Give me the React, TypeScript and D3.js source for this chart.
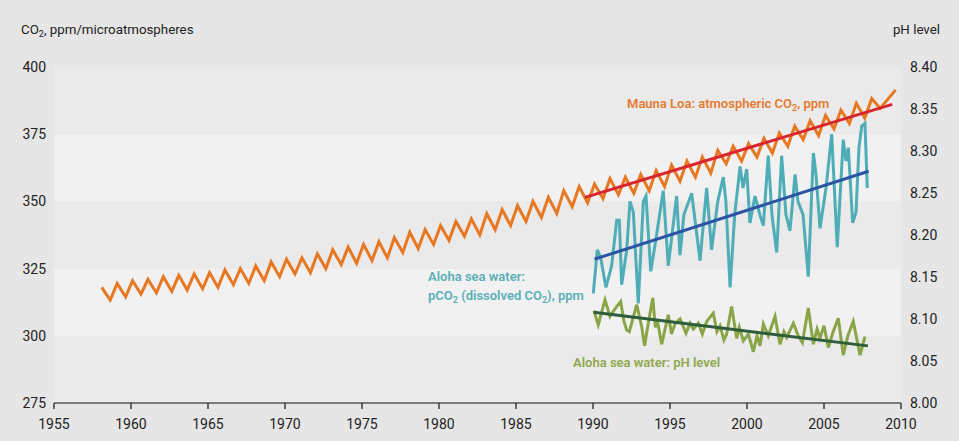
import React from "react";
import * as d3 from "d3";

const years = [1955, 1960, 1965, 1970, 1975, 1980, 1985, 1990, 1995, 2000, 2005, 2010];
const ppmTicks = [275, 300, 325, 350, 375, 400];
const phTicks = [8.0, 8.05, 8.1, 8.15, 8.2, 8.25, 8.3, 8.35, 8.4];

// Mauna Loa seasonal peaks / troughs, 1958..2008
const mlYears = d3.range(1958, 2009);
const mlPeak = [318, 319.5, 320.5, 321, 322, 322.5, 323, 323.5, 324.5, 325, 326, 327.5, 328.5, 329, 330.5, 332, 333, 334, 335, 336.5, 338.5, 339.5, 341, 342.5, 343.5, 345.5, 347, 348.5, 350, 351.5, 354, 355.5, 356.5, 358.5, 359, 360, 361.5, 363.5, 365, 366.5, 369, 370.5, 371.5, 373.5, 375.5, 378, 380, 382, 384, 386.5, 388.3];
const mlTrough = [313.3, 314.5, 315.5, 316, 316.5, 317, 317.5, 318, 319, 319.5, 320.5, 322, 323, 323.5, 325, 326.5, 327, 328, 329, 331, 332.5, 334, 335.5, 337, 337.5, 339.5, 341, 342.5, 344, 345.5, 348, 349.5, 351, 352.5, 353, 354, 355.5, 357.5, 359, 360.5, 364, 365, 366.5, 368, 370.5, 373, 374.5, 377, 379, 381, 384.6];
const mlLast: [number, number] = [2009.65, 391.5];

// Aloha pCO2 (year, µatm)
const alohaPco2: [number, number][] = [
  [1990.02, 315.8], [1990.28, 332], [1990.5, 329], [1990.84, 318], [1991.21, 326], [1991.54, 343],
  [1991.71, 343], [1991.86, 319], [1992.19, 332], [1992.4, 350], [1992.62, 346], [1992.94, 312],
  [1993.27, 350], [1993.44, 352], [1993.75, 324], [1994.09, 336], [1994.56, 354], [1994.89, 326],
  [1995.43, 352], [1995.65, 330], [1995.9, 345], [1996.41, 353], [1996.95, 328], [1997.38, 355],
  [1997.7, 332], [1998.1, 350], [1998.46, 359], [1998.63, 350], [1998.9, 318], [1999.2, 345],
  [1999.55, 363], [1999.74, 355], [1999.98, 362], [2000.19, 342], [2000.52, 352], [2000.84, 345],
  [2001.06, 341], [2001.38, 367], [2001.62, 345], [2001.93, 331], [2002.25, 367], [2002.53, 345],
  [2002.79, 339], [2003.12, 360], [2003.31, 350], [2003.64, 345], [2003.98, 322], [2004.31, 368],
  [2004.48, 360], [2004.74, 340], [2005.13, 355], [2005.5, 375], [2005.86, 333], [2006.25, 373],
  [2006.43, 365], [2006.58, 370], [2006.86, 342], [2007.08, 346], [2007.27, 370], [2007.45, 378],
  [2007.66, 379], [2007.81, 355],
];

// Aloha pH (year, pH)
const alohaPh: [number, number][] = [
  [1990.06, 8.11], [1990.34, 8.093], [1990.78, 8.123], [1991.1, 8.103], [1991.43, 8.112], [1991.8, 8.121],
  [1992.0, 8.098], [1992.19, 8.087], [1992.36, 8.085], [1992.84, 8.117], [1993.16, 8.091], [1993.35, 8.068],
  [1993.48, 8.083], [1993.88, 8.125], [1994.05, 8.09], [1994.18, 8.098], [1994.46, 8.07], [1994.89, 8.105],
  [1995.1, 8.082], [1995.32, 8.094], [1995.65, 8.1], [1996.04, 8.083], [1996.3, 8.095], [1996.51, 8.088],
  [1996.84, 8.095], [1997.1, 8.082], [1997.38, 8.097], [1997.81, 8.107], [1998.05, 8.085], [1998.25, 8.092],
  [1998.5, 8.075], [1998.68, 8.082], [1999.0, 8.115], [1999.33, 8.077], [1999.5, 8.09], [1999.76, 8.074],
  [2000.09, 8.082], [2000.41, 8.061], [2000.65, 8.08], [2000.85, 8.068], [2001.06, 8.094], [2001.38, 8.08],
  [2001.82, 8.103], [2002.14, 8.07], [2002.4, 8.085], [2002.58, 8.078], [2003.01, 8.095], [2003.33, 8.08],
  [2003.6, 8.072], [2003.98, 8.113], [2004.31, 8.07], [2004.55, 8.088], [2004.74, 8.077], [2005.0, 8.092],
  [2005.28, 8.066], [2005.6, 8.085], [2005.93, 8.101], [2006.25, 8.057], [2006.55, 8.08], [2006.9, 8.097],
  [2007.34, 8.057], [2007.66, 8.079],
];

// trend lines
const trendMauna: [number, number][] = [[1989.48, 351.5], [2009.43, 386.1]];
const trendPco2: [number, number][] = [[1990.1, 328.5], [2007.9, 361.2]];
const trendPh: [number, number][] = [[1990.05, 8.108], [2007.85, 8.068]];

const W = 959, H = 441;
const FONT = "Roboto, 'Open Sans', sans-serif";

export default function App() {
  const x = d3.scaleLinear().domain([1955, 2010]).range([54, 901]);
  const y = d3.scaleLinear().domain([275, 400]).range([403, 67]);
  const yPh = d3.scaleLinear().domain([8.0, 8.4]).range([403, 67]);

  const maunaPts: [number, number][] = [];
  mlYears.forEach((yr, i) => {
    maunaPts.push([yr + 0.1, mlPeak[i]]);
    maunaPts.push([yr + 0.65, mlTrough[i]]);
  });
  maunaPts.push(mlLast);

  const lineCo2 = d3.line<[number, number]>().x((d) => x(d[0])).y((d) => y(d[1]));
  const linePh = d3.line<[number, number]>().x((d) => x(d[0])).y((d) => yPh(d[1]));

  const bands = d3.range(0, 5).map((i) => ({ lo: 275 + i * 25, hi: 300 + i * 25, light: i % 2 === 1 }));
  const textColor = "#222";

  return (
    <svg width={W} height={H} style={{ position: "absolute", left: 0, top: 0 }} fontFamily={FONT}>
      <rect x={0} y={0} width={W} height={H} fill="#e6e6e6" />
      {bands.map((b, i) => (
        <rect key={i} x={x(1955)} y={y(b.hi)} width={x(2010) - x(1955)} height={y(b.lo) - y(b.hi)}
          fill={b.light ? "#f1f1f1" : "#eaeaea"} />
      ))}

      {/* axis titles */}
      <text x={21} y={34} fontSize={13.3} fill={textColor}>
        CO<tspan fontSize={9} dy={3}>2</tspan><tspan dy={-3}>, ppm/microatmospheres</tspan>
      </text>
      <text x={940} y={34} fontSize={13.3} fill={textColor} textAnchor="end">pH level</text>

      {/* left ticks */}
      {ppmTicks.map((t) => (
        <text key={t} x={46} y={y(t)} dy="0.35em" fontSize={14} fill={textColor} textAnchor="end">{t}</text>
      ))}
      {/* right ticks */}
      {phTicks.map((t) => (
        <text key={t} x={910} y={yPh(t)} dy="0.35em" fontSize={14} fill={textColor}>{d3.format(".2f")(t)}</text>
      ))}

      {/* x axis */}
      <line x1={x(1955)} x2={x(2010)} y1={403} y2={403} stroke="#111" strokeWidth={1.2} />
      {years.map((yr) => (
        <g key={yr}>
          <line x1={x(yr)} x2={x(yr)} y1={403} y2={409} stroke="#111" strokeWidth={1.2} />
          <text x={x(yr)} y={424} dy="0.35em" fontSize={14} fill={textColor} textAnchor="middle">{yr}</text>
        </g>
      ))}

      {/* series */}
      <path d={lineCo2(maunaPts) || ""} fill="none" stroke="#e87722" strokeWidth={3} />
      <path d={lineCo2(alohaPco2) || ""} fill="none" stroke="#4eadb6" strokeWidth={3} />
      <path d={linePh(alohaPh) || ""} fill="none" stroke="#8aa547" strokeWidth={3} />
      <path d={lineCo2(trendMauna) || ""} fill="none" stroke="#d9262e" strokeWidth={3} />
      <path d={lineCo2(trendPco2) || ""} fill="none" stroke="#2b54a4" strokeWidth={3} />
      <path d={linePh(trendPh) || ""} fill="none" stroke="#2d5d3a" strokeWidth={3} />

      {/* labels */}
      <text x={627} y={108} fontSize={13} fontWeight={600} fill="#e57b30">
        Mauna Loa: atmospheric CO<tspan fontSize={9} dy={3}>2</tspan><tspan dy={-3}>, ppm</tspan>
      </text>
      <text x={428} y={281} fontSize={13} fontWeight={600} fill="#5aafb6">Aloha sea water:</text>
      <text x={428} y={300} fontSize={13} fontWeight={600} fill="#5aafb6">
        pCO<tspan fontSize={9} dy={3}>2</tspan><tspan dy={-3}> (dissolved CO</tspan><tspan fontSize={9} dy={3}>2</tspan><tspan dy={-3}>), ppm</tspan>
      </text>
      <text x={573} y={367} fontSize={13} fontWeight={600} fill="#8ea84e">Aloha sea water: pH level</text>
    </svg>
  );
}
